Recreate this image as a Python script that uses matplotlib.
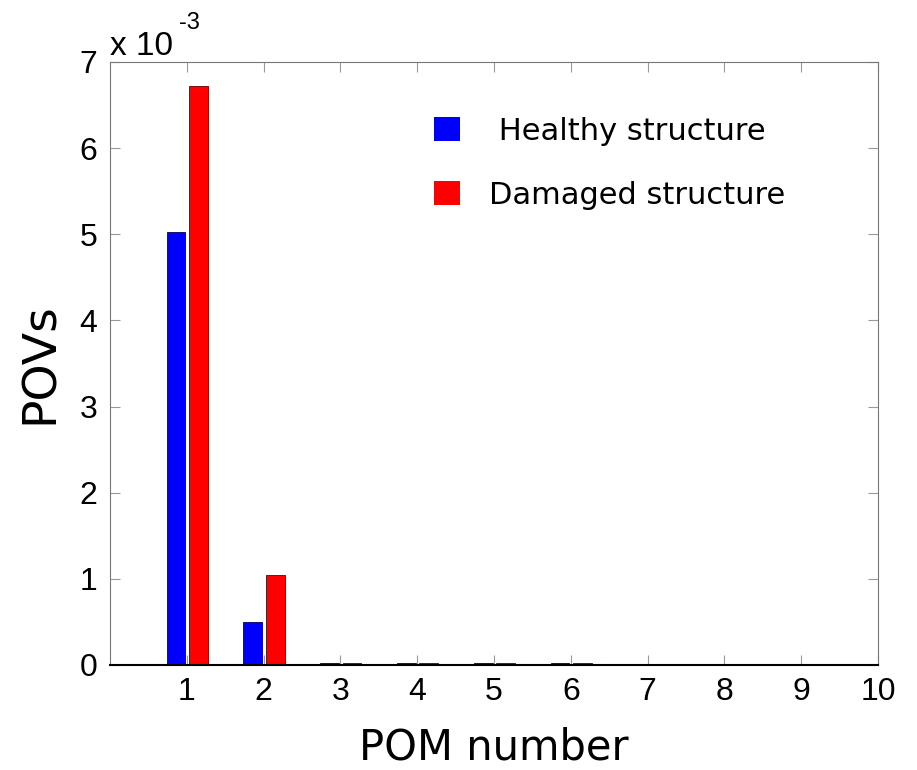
import numpy as np
import matplotlib.pyplot as plt

plt.rcParams['font.family'] = 'Liberation Sans'

pom = np.arange(1, 11)
healthy = np.array([5.03, 0.50, 0.02, 0.02, 0.02, 0.02, 0.005, 0.005, 0.005, 0.005]) * 1e-3
damaged = np.array([6.72, 1.05, 0.02, 0.02, 0.02, 0.02, 0.005, 0.005, 0.005, 0.005]) * 1e-3

fig = plt.figure(figsize=(9.17, 7.7), dpi=100)
ax = fig.add_axes([0.12, 0.1364, 0.8375, 0.7831])

w = 0.245
ax.bar(pom - 0.14, healthy / 1e-3, width=w, color='#0000ff', edgecolor='#000060',
       linewidth=0.6, label=' Healthy structure')
ax.bar(pom + 0.15, damaged / 1e-3, width=w, color='#ff0000', edgecolor='#600000',
       linewidth=0.6, label='Damaged structure')

ax.set_xlim(0, 10)
ax.set_ylim(0, 7)
ax.set_xticks(pom)
ax.set_yticks(np.arange(0, 8))
ax.tick_params(direction='in', top=True, right=True, length=7, color='#999999',
               labelsize=23, pad=9)
for s in ['top', 'right', 'left']:
    ax.spines[s].set_color('#777777')
ax.spines['bottom'].set_linewidth(1.5)

ax.set_xlabel('POM number', fontsize=30, family='DejaVu Sans', labelpad=14)
ax.set_ylabel('POVs', fontsize=34, family='DejaVu Sans', labelpad=12)

fig.text(0.12, 0.9286, 'x 10', fontsize=24, ha='left', va='baseline')
fig.text(0.195, 0.962, '-3', fontsize=17, ha='left', va='baseline')

leg = ax.legend(loc='upper right', bbox_to_anchor=(0.915, 0.955), frameon=False,
                prop={'family': 'DejaVu Sans', 'size': 22},
                handlelength=0.85, handleheight=0.85, labelspacing=1.15,
                handletextpad=0.95)
for p in leg.get_patches():
    p.set_edgecolor('none')

fig.savefig('out.png', dpi=100)
